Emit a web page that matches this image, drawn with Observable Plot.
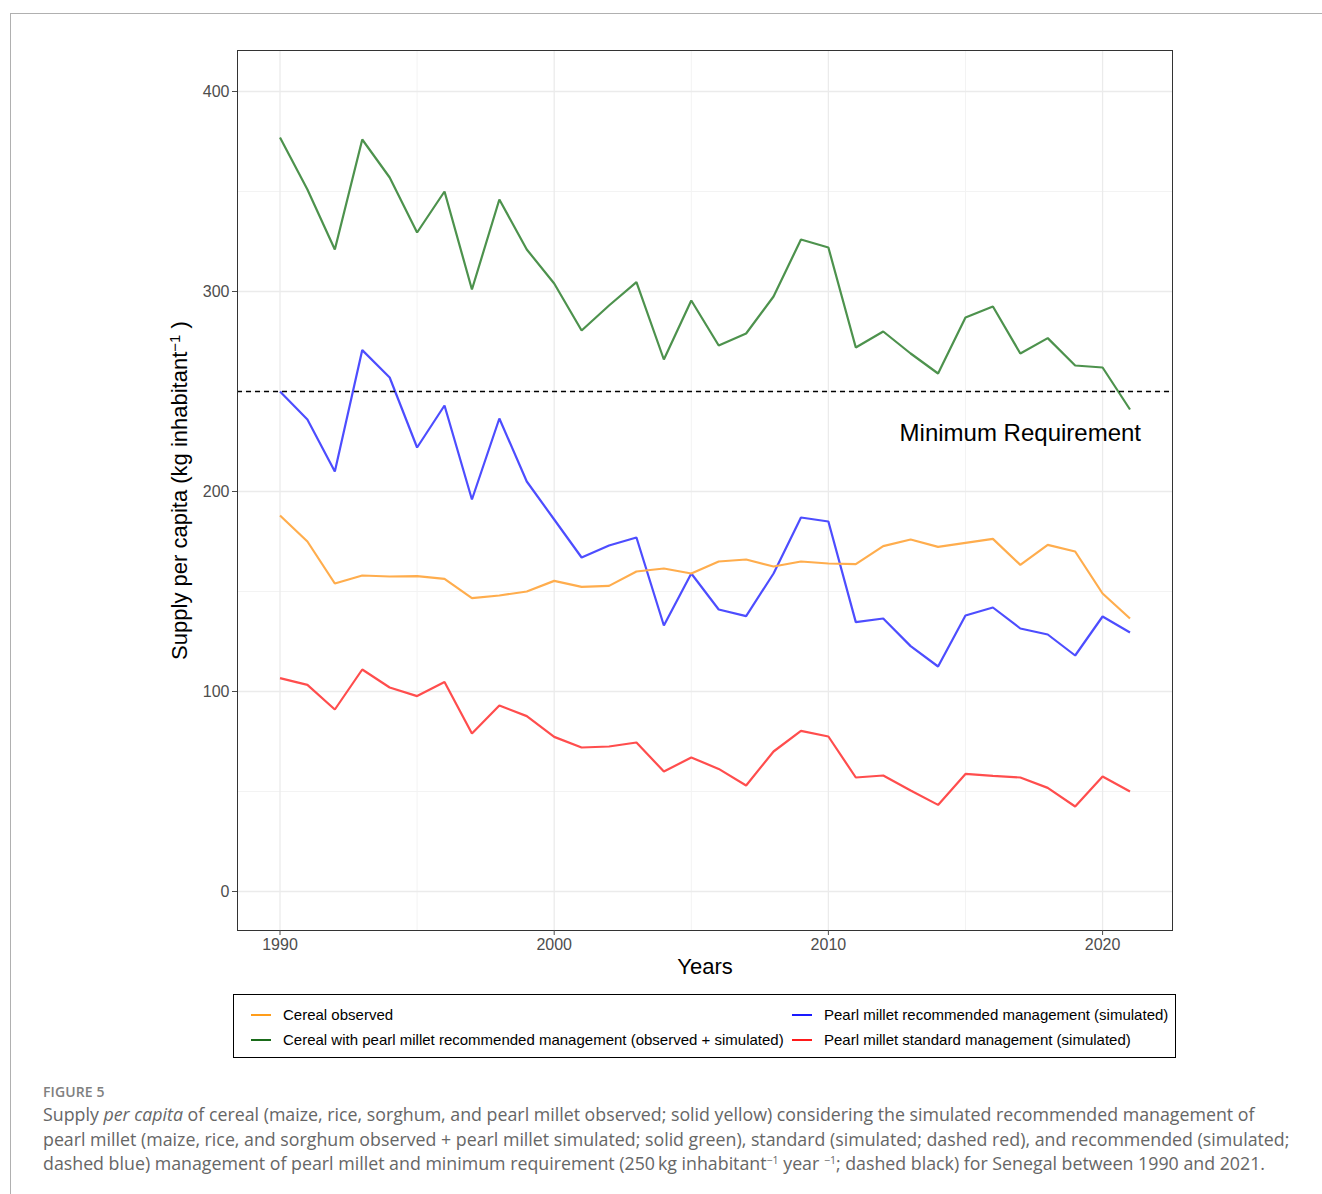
<!DOCTYPE html>
<html>
<head>
<meta charset="utf-8">
<script src="https://cdn.jsdelivr.net/npm/d3@7"></script>
<script src="https://cdn.jsdelivr.net/npm/@observablehq/plot@0.6"></script>
<style>
  body { margin: 0; background: #fff; }
  #page { position: relative; width: 1322px; height: 1194px; overflow: hidden; font-family: "Liberation Sans", Arial, sans-serif; }
  #frame { position: absolute; left: 10px; top: 13px; width: 1330px; height: 1200px; border-left: 1px solid #b0b0b0; border-top: 1px solid #b0b0b0; }
  #chart { position: absolute; left: 0; top: 0; }
  #legend { position: absolute; left: 233px; top: 994px; width: 941px; height: 62px; border: 1.5px solid #000; box-sizing: content-box; }
  .item { position: absolute; font-size: 15px; color: #000; white-space: nowrap; line-height: 18px; }
  .key { position: absolute; width: 20px; height: 2.4px; left: -32px; top: 8px; }
  #figlabel { position: absolute; left: 43px; top: 1082px; font-family: "Open Sans", sans-serif; font-size: 14px; font-weight: 600; color: #808080; letter-spacing: 0.1px; }
  #caption { position: absolute; left: 43px; top: 1102px; font-family: "Open Sans", sans-serif; font-size: 17.8px; color: #666; line-height: 24.5px; white-space: nowrap; }
  #caption sup { font-size: 10.5px; line-height: 0; vertical-align: 6px; }
</style>
</head>
<body>
<div id="page">
  <div id="frame"></div>
  <div id="chart"></div>
  <div id="legend"></div>
  <div id="figlabel">FIGURE 5</div>
  <div id="caption">
    Supply <i>per capita</i> of cereal (maize, rice, sorghum, and pearl millet observed; solid yellow) considering the simulated recommended management of<br>
    pearl millet (maize, rice, and sorghum observed + pearl millet simulated; solid green), standard (simulated; dashed red), and recommended (simulated;<br>
    dashed blue) management of pearl millet and minimum requirement (250&#8201;kg inhabitant<sup>&minus;1</sup> year <sup>&minus;1</sup>; dashed black) for Senegal between 1990 and 2021.
  </div>
</div>
<script>
// ---- data ----
const years = [1990,1991,1992,1993,1994,1995,1996,1997,1998,1999,2000,2001,2002,2003,2004,2005,2006,2007,2008,2009,2010,2011,2012,2013,2014,2015,2016,2017,2018,2019,2020,2021];

const cerealObserved = [188,175,154,158,157.5,157.7,156.3,146.7,148,150,155.3,152.3,152.8,160,161.5,159,165,166,162.5,165,164,163.7,172.7,176,172.3,174.3,176.3,163.3,173.3,170,149,136.5];

const cerealWithRecommended = [377,351,321,376,357,329.5,350,301,346,321,304,280.5,293,304.7,266,295.5,273,279,297.5,326,322,272,280,269,259,287,292.5,269,276.7,263,262,241];

const milletRecommended = [250,236,210,270.7,257,222,243,196,236.5,205,186,167,173,177,133,159,141,137.7,159,187,185,134.7,136.5,122.7,112.5,138,142,131.5,128.5,118,137.5,129.5];

const milletStandard = [106.7,103.3,91,111,102,97.7,104.8,79,93,87.7,77.3,72,72.5,74.5,60,67,61.3,53,70,80.3,77.5,57,58,50.5,43.3,58.8,57.8,57,51.8,42.5,57.5,50];

const seriesNames = [
  "Cereal observed",
  "Cereal with pearl millet recommended management (observed + simulated)",
  "Pearl millet recommended management (simulated)",
  "Pearl millet standard management (simulated)"
];
const lineColors = ["#ffad4d", "#4d924d", "#4d4dff", "#ff4d4d"];
const keyColors = ["#ff9d1a", "#1a6b1a", "#1a1aff", "#ff1a1a"];

const minimumRequirement = 250;
const annotation = [{year: 2017, value: 229, label: "Minimum Requirement"}];

const xTicks = [1990, 2000, 2010, 2020];
const xMinor = [1995, 2005, 2015];
const yTicks = [0, 100, 200, 300, 400];
const yMinor = [50, 150, 250, 350];

const xTitle = "Years";
const yTitleParts = ["Supply per capita (kg inhabitant", "\u22121", " )"];

const seriesValues = [cerealObserved, cerealWithRecommended, milletRecommended, milletStandard];
const records = [];
seriesValues.forEach((vals, i) => {
  vals.forEach((v, j) => records.push({series: seriesNames[i], year: years[j], value: v}));
});

const font = "'Liberation Sans', Arial, sans-serif";

const lineMarks = [1, 2, 0, 3].map(i =>
  Plot.line(records.filter(d => d.series === seriesNames[i]), {
    x: "year", y: "value", stroke: lineColors[i], strokeWidth: 2.2, strokeLinejoin: "miter", strokeLinecap: "butt"
  })
);

const chart = Plot.plot({
  width: 1322,
  height: 990,
  marginLeft: 237,
  marginRight: 150,
  marginTop: 50,
  marginBottom: 60,
  style: {fontFamily: font, background: "transparent", overflow: "visible"},
  x: {domain: [1988.45, 2022.55]},
  y: {domain: [-19.5, 420.5]},
  marks: [
    Plot.ruleX(xMinor, {stroke: "#f3f3f3", strokeWidth: 1}),
    Plot.ruleY(yMinor, {stroke: "#f3f3f3", strokeWidth: 1}),
    Plot.ruleX(xTicks, {stroke: "#ebebeb", strokeWidth: 1.3}),
    Plot.ruleY(yTicks, {stroke: "#ebebeb", strokeWidth: 1.3}),
    ...lineMarks,
    Plot.ruleY([minimumRequirement], {stroke: "#000", strokeWidth: 1.3, strokeDasharray: "5,4"}),
    Plot.text(annotation, {x: "year", y: "value", text: "label", fontSize: 24, fill: "#000", fontFamily: font}),
    Plot.frame({stroke: "#333", strokeWidth: 1}),
    Plot.axisX(xTicks, {tickSize: 5, tickPadding: 3, fontSize: 16, color: "#4d4d4d", tickFormat: d => String(d),
      label: xTitle, labelAnchor: "center", labelOffset: 43}),
    Plot.axisY(yTicks, {tickSize: 5, tickPadding: 3, fontSize: 16, color: "#4d4d4d",
      label: yTitleParts.join(""), labelAnchor: "center", labelOffset: 66})
  ]
});

document.getElementById("chart").appendChild(chart);

// style axis titles (remove direction arrows, set size/colour)
d3.select(chart).selectAll('g[aria-label="x-axis label"] text')
  .attr("font-size", 22).attr("fill", "#000").style("fill", "#000")
  .text(xTitle);
d3.select(chart).selectAll('g[aria-label="y-axis label"] text').each(function() {
  const t = d3.select(this);
  t.attr("font-size", 22).attr("fill", "#000").style("fill", "#000").text(null);
  t.append("tspan").text(yTitleParts[0]);
  t.append("tspan").attr("font-size", 15).attr("dy", "-0.5em").text(yTitleParts[1]);
  t.append("tspan").attr("dy", "0.34em").text(yTitleParts[2]);
});

// legend
const legend = document.getElementById("legend");
const positions = [
  {left: 49, top: 11}, {left: 49, top: 36}, {left: 590, top: 11}, {left: 590, top: 36}
];
seriesNames.forEach((name, i) => {
  const it = document.createElement("div");
  it.className = "item";
  it.style.left = positions[i].left + "px";
  it.style.top = positions[i].top + "px";
  it.textContent = name;
  const k = document.createElement("div");
  k.className = "key";
  k.style.background = keyColors[i];
  it.appendChild(k);
  legend.appendChild(it);
});
</script>
</body>
</html>
